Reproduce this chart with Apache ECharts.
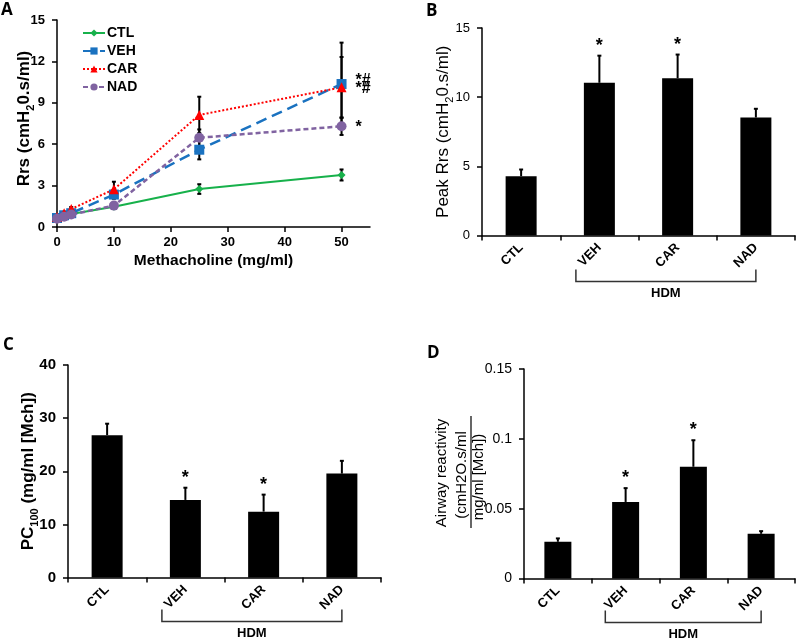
<!DOCTYPE html>
<html><head><meta charset="utf-8">
<script src="https://cdn.jsdelivr.net/npm/echarts@6/dist/echarts.min.js"></script>
<style>html,body{margin:0;padding:0;background:#fff}#c{width:796px;height:641px}</style>
</head><body><div id="c"></div>
<script>
// ---- Panel A data ----
const doses = [0, 1.25, 2.5, 10, 25, 50];
const ctlRrs = [0.65, 0.8, 0.95, 1.47, 2.75, 3.77];
const ctlErr = [0.05, 0.05, 0.08, 0.1, 0.35, 0.4];
const vehRrs = [0.65, 0.85, 1.0, 2.35, 5.6, 10.36];
const vehErr = [0.05, 0.08, 0.1, 0.3, 0.7, 3.0];
const carRrs = [0.72, 1.0, 1.3, 2.73, 8.12, 10.12];
const carErr = [0.08, 0.1, 0.15, 0.55, 1.32, 2.2];
const nadRrs = [0.6, 0.75, 0.9, 1.55, 6.47, 7.3];
const nadErr = [0.05, 0.05, 0.08, 0.1, 0.6, 0.63];
const annotA = [[50, 10.36, '*#'], [50, 7.3, '*']];
const xTicksA = [0, 10, 20, 30, 40, 50];
// ---- Bar panels ----
const groups = ['CTL', 'VEH', 'CAR', 'NAD'];
const peakRrs = [4.29, 11.04, 11.37, 8.53];
const peakErr = [0.48, 1.96, 1.71, 0.63];
const peakSig = ['', '*', '*', ''];
const pc100 = [26.8, 14.6, 12.4, 19.56];
const pc100Err = [2.15, 2.3, 3.2, 2.4];
const pc100Sig = ['', '*', '*', ''];
const reactivity = [0.0263, 0.0548, 0.080, 0.032];
const reactErr = [0.0024, 0.0099, 0.019, 0.0019];
const reactSig = ['', '*', '*', ''];
const bracketLabel = 'HDM';

const FF = '"Liberation Sans", Arial, sans-serif';
const chart = echarts.init(document.getElementById('c'));

function lineErr(name, xs, ys, es) {
  return {
    type: 'custom', xAxisIndex: 0, yAxisIndex: 0, z: 1, silent: true,
    data: xs.map((x, i) => [x, ys[i], es[i]]),
    renderItem: (p, api) => {
      const x = api.value(0), y = api.value(1), e = api.value(2);
      const a = api.coord([x, y - e]), b = api.coord([x, y + e]);
      const st = {stroke: '#000', lineWidth: 2};
      return {type: 'group', children: [
        {type: 'line', shape: {x1: a[0], y1: a[1], x2: b[0], y2: b[1]}, style: st},
        {type: 'line', shape: {x1: a[0] - 2, y1: a[1], x2: a[0] + 2, y2: a[1]}, style: st},
        {type: 'line', shape: {x1: b[0] - 2, y1: b[1], x2: b[0] + 2, y2: b[1]}, style: st}
      ]};
    }
  };
}
function barErr(idx, vals, errs, sigs) {
  return {
    type: 'custom', xAxisIndex: idx, yAxisIndex: idx, z: 5, silent: true,
    data: vals.map((v, i) => [i, v, errs[i]]),
    renderItem: (p, api) => {
      const i = api.value(0), v = api.value(1), e = api.value(2);
      const a = api.coord([i, v]), b = api.coord([i, v + e]);
      const st = {stroke: '#000', lineWidth: 2};
      const ch = [
        {type: 'line', shape: {x1: a[0], y1: a[1], x2: b[0], y2: b[1]}, style: st},
        {type: 'line', shape: {x1: b[0] - 2, y1: b[1], x2: b[0] + 2, y2: b[1]}, style: st}
      ];
      const s = sigs[p.dataIndex];
      if (s) ch.push({type: 'text', style: {text: s, x: b[0], y: b[1] - 1, align: 'center', verticalAlign: 'bottom',
        fontFamily: FF, fontSize: 18, fontWeight: 'bold', fill: '#000'}});
      return {type: 'group', children: ch};
    }
  };
}
function bars(idx, vals) {
  return {type: 'bar', xAxisIndex: idx, yAxisIndex: idx, data: vals, barWidth: idx === 3 ? 27 : 31,
    itemStyle: {color: '#000'}, z: 2, silent: true};
}
const axLine = {show: true, lineStyle: {color: '#000', width: 1.5}};
const axTick = {show: true, inside: false, length: 5, lineStyle: {color: '#000', width: 1.5}};
function catAxis(idx) {
  return {type: 'category', gridIndex: idx, data: groups, boundaryGap: true,
    axisLine: axLine, axisTick: Object.assign({alignWithLabel: false}, axTick),
    axisLabel: {rotate: 45, interval: 0, margin: 10, fontFamily: FF, fontSize: 13, fontWeight: 'bold', color: '#000'}};
}

const option = {
  animation: false,
  backgroundColor: '#fff',
  grid: [
    {left: 57, top: 20, width: 313, height: 207},
    {left: 482, top: 28, width: 313, height: 207.5},
    {left: 68, top: 365, width: 313, height: 212.5},
    {left: 524, top: 369, width: 271, height: 209.5}
  ],
  legend: {
    orient: 'vertical', left: 77, top: 21, itemGap: 4, itemWidth: 22, itemHeight: 9,
    data: ['CTL', 'VEH', 'CAR', 'NAD'],
    textStyle: {fontFamily: FF, fontSize: 14, fontWeight: 'bold', color: '#000', padding: [0, 0, 0, -3]}
  },
  xAxis: [
    {type: 'value', gridIndex: 0, min: 0, max: 55, interval: 10,
      axisLine: axLine, axisTick: Object.assign({customValues: xTicksA}, axTick), splitLine: {show: false},
      axisLabel: {customValues: xTicksA, margin: 9, fontFamily: FF, fontSize: 13, fontWeight: 'bold', color: '#000'},
      name: 'Methacholine (mg/ml)', nameLocation: 'middle', nameGap: 26, nameMoveOverlap: false,
      nameTextStyle: {fontFamily: FF, fontSize: 15.5, fontWeight: 'bold', color: '#000'}},
    catAxis(1), catAxis(2), catAxis(3)
  ],
  yAxis: [
    {type: 'value', gridIndex: 0, min: 0, max: 15, interval: 3, axisLine: axLine, axisTick: axTick, splitLine: {show: false},
      axisLabel: {margin: 12, fontFamily: FF, fontSize: 13, fontWeight: 'bold', color: '#000'},
      name: 'Rrs (cmH{s|2}0.s/ml)', nameLocation: 'middle', nameGap: 21, nameRotate: 90, nameMoveOverlap: false,
      nameTextStyle: {fontFamily: FF, fontSize: 17, fontWeight: 'bold', color: '#000', lineHeight: 24, padding: [0, 0, 0, 10],
        rich: {s: {fontFamily: FF, fontSize: 11, fontWeight: 'bold', color: '#000', lineHeight: 12, verticalAlign: 'bottom'}}}},
    {type: 'value', gridIndex: 1, min: 0, max: 15, interval: 5, axisLine: axLine, axisTick: axTick, splitLine: {show: false},
      axisLabel: {margin: 12, fontFamily: FF, fontSize: 13, color: '#000'},
      name: 'Peak Rrs (cmH{s|2}0.s/ml)', nameLocation: 'middle', nameGap: 27, nameRotate: 90, nameMoveOverlap: false,
      nameTextStyle: {fontFamily: FF, fontSize: 17, color: '#000', lineHeight: 24,
        rich: {s: {fontFamily: FF, fontSize: 11, color: '#000', lineHeight: 12, verticalAlign: 'bottom'}}}},
    {type: 'value', gridIndex: 2, min: 0, max: 40, interval: 10, axisLine: axLine, axisTick: axTick, splitLine: {show: false},
      axisLabel: {margin: 12, fontFamily: FF, fontSize: 15, fontWeight: 'bold', color: '#000'},
      name: 'PC{s|100} (mg/ml [Mch])', nameLocation: 'middle', nameGap: 28, nameRotate: 90, nameMoveOverlap: false,
      nameTextStyle: {fontFamily: FF, fontSize: 17, fontWeight: 'bold', color: '#000', lineHeight: 24,
        rich: {s: {fontFamily: FF, fontSize: 11, fontWeight: 'bold', color: '#000', lineHeight: 12, verticalAlign: 'bottom'}}}},
    {type: 'value', gridIndex: 3, min: 0, max: 0.15, interval: 0.05, axisLine: axLine, axisTick: axTick, splitLine: {show: false},
      axisLabel: {margin: 12, fontFamily: FF, fontSize: 14, color: '#000'}}
  ],
  series: [
    lineErr('CTL', doses, ctlRrs, ctlErr),
    lineErr('VEH', doses, vehRrs, vehErr),
    lineErr('CAR', doses, carRrs, carErr),
    lineErr('NAD', doses, nadRrs, nadErr),
    {name: 'CTL', type: 'line', xAxisIndex: 0, yAxisIndex: 0, z: 3, data: doses.map((x, i) => [x, ctlRrs[i]]),
      symbol: 'diamond', symbolSize: 8, itemStyle: {color: '#17b14b'}, lineStyle: {color: '#17b14b', width: 2}},
    {name: 'VEH', type: 'line', xAxisIndex: 0, yAxisIndex: 0, z: 3, data: doses.map((x, i) => [x, vehRrs[i]]),
      symbol: 'rect', symbolSize: 10, itemStyle: {color: '#1a72c0'}, lineStyle: {color: '#1a72c0', width: 2.5, type: [11, 6]}},
    {name: 'CAR', type: 'line', xAxisIndex: 0, yAxisIndex: 0, z: 3, data: doses.map((x, i) => [x, carRrs[i]]),
      symbol: 'triangle', symbolSize: 10, itemStyle: {color: '#ff0000'}, lineStyle: {color: '#ff0000', width: 2, type: [2, 2]}},
    {name: 'NAD', type: 'line', xAxisIndex: 0, yAxisIndex: 0, z: 3, data: doses.map((x, i) => [x, nadRrs[i]]),
      symbol: 'circle', symbolSize: 10, itemStyle: {color: '#8063a1'}, lineStyle: {color: '#8063a1', width: 2.5, type: [5, 3]}},
    {type: 'custom', xAxisIndex: 0, yAxisIndex: 0, z: 6, silent: true, data: annotA,
      renderItem: (p, api) => {
        const c = api.coord([api.value(0), api.value(1)]);
        const t = annotA[p.dataIndex][2];
        const st = {fontFamily: FF, fontSize: 16, fontWeight: 'bold', fill: '#000', align: 'left', verticalAlign: 'middle'};
        if (t.length > 1) {
          return {type: 'group', children: [
            {type: 'text', style: Object.assign({text: t, x: c[0] + 14, y: c[1] - 3}, st)},
            {type: 'text', style: Object.assign({text: t, x: c[0] + 14, y: c[1] + 5}, st)}
          ]};
        }
        return {type: 'text', style: Object.assign({text: t, x: c[0] + 14, y: c[1] + 1}, st)};
      }},
    bars(1, peakRrs), barErr(1, peakRrs, peakErr, peakSig),
    bars(2, pc100), barErr(2, pc100, pc100Err, pc100Sig),
    bars(3, reactivity), barErr(3, reactivity, reactErr, reactSig)
  ]
};
chart.setOption(option);

// Graphic annotations: panel letters, HDM brackets, D axis title
const letters = [['A', 1, 2], ['B', 426, 3], ['C', 3, 337], ['D', 427, 345]];
const g = letters.map(l => ({type: 'text', x: l[1], y: l[2], style: {text: l[0], fontFamily: '"Open Sans", sans-serif',
  fontSize: 17, fontWeight: 'bold', fill: '#000'}}));
function bracket(idx, below) {
  const veh = chart.convertToPixel({xAxisIndex: idx}, 'VEH');
  const nad = chart.convertToPixel({xAxisIndex: idx}, 'NAD');
  const cw = (nad - veh) / 2;
  const y0 = chart.convertToPixel({yAxisIndex: idx}, 0);
  const x1 = veh - 0.3 * cw, x2 = nad;
  const yl = y0 + below;
  const st = {stroke: '#333', lineWidth: 1.5, fill: null};
  g.push({type: 'polyline', shape: {points: [[x1, yl - 12], [x1, yl], [x2, yl], [x2, yl - 12]]}, style: st});
  g.push({type: 'text', x: (x1 + x2) / 2, y: yl + 12, style: {text: bracketLabel, fontFamily: FF, fontSize: 13,
    fontWeight: 'bold', fill: '#000', align: 'center', verticalAlign: 'middle'}});
}
bracket(1, 46); bracket(2, 44); bracket(3, 44);
const dFont = {fontFamily: FF, fontSize: 15, fill: '#000', align: 'center', verticalAlign: 'middle'};
g.push({type: 'text', x: 442, y: 473, rotation: Math.PI / 2, style: Object.assign({text: 'Airway reactivity'}, dFont)});
g.push({type: 'text', x: 462, y: 475, rotation: Math.PI / 2, style: Object.assign({text: '(cmH2O.s/ml'}, dFont)});
g.push({type: 'text', x: 479, y: 477, rotation: Math.PI / 2, style: Object.assign({text: 'mg/ml [Mch])'}, dFont)});
g.push({type: 'line', shape: {x1: 471, y1: 416, x2: 471, y2: 528}, style: {stroke: '#000', lineWidth: 1.2}});
chart.setOption({graphic: g});
</script></body></html>
